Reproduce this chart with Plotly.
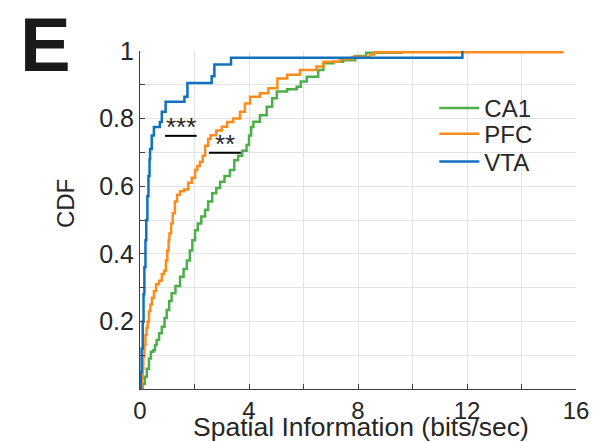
import plotly.graph_objects as go

ca1_x = [0, 0.06, 0.1, 0.18, 0.25, 0.33, 0.4, 0.49, 0.55, 0.61, 0.7, 0.8, 0.9, 0.98, 1.07, 1.16, 1.3, 1.47,
         1.6, 1.72, 1.83, 1.92, 2.02, 2.12, 2.25, 2.39, 2.5, 2.65, 2.8, 2.94, 3.1, 3.3, 3.46, 3.6, 3.75, 3.91,
         4.0, 4.08, 4.16, 4.4, 4.65, 4.85, 5.02, 5.4, 5.75, 5.9, 6.12, 6.54, 6.73, 7.1, 7.45, 7.9, 8.3, 9.6]
ca1_y = [0, 0.0, 0.015, 0.036, 0.06, 0.09, 0.11, 0.115, 0.13, 0.145, 0.165, 0.184, 0.21, 0.234, 0.26, 0.283,
         0.305, 0.332, 0.355, 0.38, 0.41, 0.44, 0.47, 0.49, 0.51, 0.53, 0.555, 0.579, 0.595, 0.613, 0.63, 0.648,
         0.677, 0.69, 0.705, 0.722, 0.75, 0.775, 0.791, 0.81, 0.835, 0.86, 0.88, 0.887, 0.894, 0.91, 0.924,
         0.944, 0.964, 0.968, 0.973, 0.985, 0.995, 1.0]

pfc_x = [0, 0.06, 0.08, 0.10, 0.12, 0.16, 0.2, 0.24, 0.28, 0.33, 0.38, 0.44, 0.51, 0.59, 0.7, 0.8, 0.89, 0.95,
         1.0, 1.05, 1.08, 1.14, 1.2, 1.28, 1.36, 1.47, 1.62, 1.77, 1.9, 2.02, 2.1, 2.2, 2.3, 2.39, 2.5, 2.59,
         2.8, 3.0, 3.2, 3.42, 3.67, 3.85, 4.04, 4.4, 4.71, 5.04, 5.4, 5.87, 6.48, 6.73, 7.34, 7.8, 8.44, 8.6, 15.5]
pfc_y = [0, 0.0, 0.03, 0.06, 0.095, 0.13, 0.16, 0.18, 0.2, 0.23, 0.25, 0.27, 0.29, 0.31, 0.32, 0.34, 0.35, 0.38,
         0.41, 0.44, 0.46, 0.49, 0.52, 0.555, 0.575, 0.585, 0.59, 0.61, 0.625, 0.648, 0.66, 0.672, 0.69, 0.72,
         0.74, 0.751, 0.765, 0.776, 0.79, 0.80, 0.82, 0.845, 0.865, 0.875, 0.89, 0.919, 0.93, 0.944, 0.954,
         0.968, 0.976, 0.983, 0.99, 0.996, 1.0]

vta_x = [0, 0.03, 0.06, 0.1, 0.13, 0.16, 0.2, 0.23, 0.27, 0.31, 0.35, 0.37, 0.43, 0.51, 0.73, 0.8, 0.94, 1.63,
         1.74, 2.63, 2.73, 3.34, 11.83]
vta_y = [0, 0.05, 0.12, 0.2, 0.28, 0.36, 0.44, 0.5, 0.57, 0.63, 0.68, 0.71, 0.75, 0.775, 0.79, 0.82, 0.85, 0.865,
         0.905, 0.925, 0.96, 0.98, 1.0]

series_names = ["CA1", "PFC", "VTA"]
x_ticks = [0, 4, 8, 12, 16]
y_ticks = [0.2, 0.4, 0.6, 0.8, 1]
y_tick_text = ["0.2", "0.4", "0.6", "0.8", "1"]
x_title = "Spatial Information (bits/sec)"
y_title = "CDF"

sig_labels = ["***", "**"]
sig_x0 = [0.92, 2.53]
sig_x1 = [2.08, 3.70]
sig_y = [0.749, 0.699]

colors = ["#4DAF4A", "#FF8C1A", "#1071BD"]
FONT = "Liberation Sans, Arial, sans-serif"
AX = "#404040"
TXT = "#262626"

legend_ids = ["legend", "legend2", "legend3"]
legend_y = [0.83, 0.754, 0.672]

fig = go.Figure()
for name, xs, ys, c, lg in zip(series_names, [ca1_x, pfc_x, vta_x], [ca1_y, pfc_y, vta_y], colors, legend_ids):
    fig.add_trace(go.Scatter(x=xs, y=ys, mode="lines", name=name, legend=lg,
                             line=dict(color=c, width=2.5, shape="hv")))

# significance markers
for lab, a, b, yy in zip(sig_labels, sig_x0, sig_x1, sig_y):
    fig.add_shape(type="line", x0=a, x1=b, y0=yy, y1=yy, xref="x", yref="y",
                  line=dict(color="black", width=2))
    fig.add_annotation(x=(a + b) / 2, y=yy, xref="x", yref="y", text=lab, showarrow=False,
                       yanchor="bottom", yshift=-8, font=dict(family=FONT, size=26, color=TXT))

fig.add_annotation(x=-0.28, y=1.15, xref="paper", yref="paper", text="<b>E</b>", showarrow=False,
                   xanchor="left", yanchor="top", font=dict(family=FONT, size=76, color="#1a1a1a"))

# axis titles
fig.add_annotation(x=0.507, y=-0.113, xref="paper", yref="paper", text=x_title, showarrow=False,
                   xanchor="center", yanchor="middle", font=dict(family=FONT, size=26.5, color=TXT))
fig.add_annotation(x=-0.172, y=0.547, xref="paper", yref="paper", text=y_title, showarrow=False,
                   textangle=-90, xanchor="center", yanchor="middle",
                   font=dict(family=FONT, size=24, color=TXT))

grid = "#e3e3e3"
leg_common = dict(x=0.675, xanchor="left", yanchor="middle", bgcolor="rgba(0,0,0,0)",
                  font=dict(family=FONT, size=24, color=TXT), itemwidth=40)
layout_legends = {lg: dict(leg_common, y=yy) for lg, yy in zip(legend_ids, legend_y)}

fig.update_layout(
    width=607, height=442,
    margin=dict(l=140, r=31, t=51, b=53),
    paper_bgcolor="white", plot_bgcolor="white",
    font=dict(family=FONT, color=TXT),
    showlegend=True,
    xaxis=dict(range=[0, 16], tickvals=x_ticks, showgrid=True, gridcolor=grid, gridwidth=1, automargin=False,
               showline=True, linecolor=AX, linewidth=1.2, ticks="inside", ticklen=5, tickcolor=AX,
               minor=dict(dtick=2, showgrid=True, gridcolor=grid, ticks="inside", ticklen=5, tickcolor=AX),
               tickfont=dict(family=FONT, size=24, color=TXT), zeroline=False),
    yaxis=dict(range=[0, 1], tickvals=y_ticks, ticktext=y_tick_text, showgrid=True, gridcolor=grid,
               automargin=False,
               showline=True, linecolor=AX, linewidth=1.2, ticks="inside", ticklen=5, tickcolor=AX,
               minor=dict(dtick=0.1, showgrid=True, gridcolor=grid, ticks="inside", ticklen=5, tickcolor=AX),
               tickfont=dict(family=FONT, size=25, color=TXT), zeroline=False),
    **layout_legends,
)

fig.write_html("out.html")
